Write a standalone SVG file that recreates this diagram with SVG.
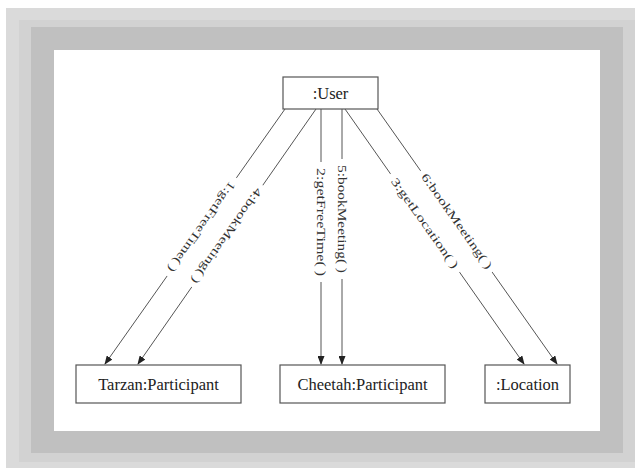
<svg xmlns="http://www.w3.org/2000/svg" width="635" height="469" viewBox="0 0 635 469">
<style>
.box{fill:#fff;stroke:#555;stroke-width:1.2}
.nt{font-family:"Liberation Serif","Times New Roman",serif;font-size:16.5px;fill:#222;text-anchor:middle;dominant-baseline:central}
.conn{stroke:#555;stroke-width:1;fill:none;marker-end:url(#ah)}
.lt{font-family:"Liberation Serif","Times New Roman",serif;font-size:11.5px;fill:#333;text-anchor:middle;dominant-baseline:central}
.bg{fill:#fff}
</style>
<defs>
<marker id="ah" markerWidth="9" markerHeight="7" refX="8" refY="3.5" orient="auto" markerUnits="userSpaceOnUse">
<path d="M0,0 L9,3.5 L0,7 z" fill="#222"/>
</marker>
</defs>
<rect x="0" y="0" width="635" height="469" fill="#fff"/>
<rect x="6" y="8" width="629" height="460" fill="#dadada"/>
<rect x="19" y="20" width="616" height="442" fill="#d2d2d2"/>
<rect x="31" y="27" width="592" height="426" fill="#c0c0c0"/>
<rect x="54" y="50" width="546" height="381" fill="#fff"/>
<g id="connectors">
<line class="conn" x1="285" y1="109" x2="105" y2="364"/>
<line class="conn" x1="316" y1="109" x2="138" y2="364"/>
<line class="conn" x1="321" y1="109" x2="321" y2="364"/>
<line class="conn" x1="342" y1="109" x2="342" y2="364"/>
<line class="conn" x1="345" y1="109" x2="524" y2="364"/>
<line class="conn" x1="377" y1="109" x2="557" y2="364"/>
<g transform="translate(202,227) rotate(125.3)"><rect class="bg" x="-60" y="-6" width="120" height="12"/><text class="lt" x="0" y="0" textLength="108" lengthAdjust="spacingAndGlyphs">1:getFreeTime(&#160;)</text></g>
<g transform="translate(227,236) rotate(125.1)"><rect class="bg" x="-62" y="-6" width="124" height="12"/><text class="lt" x="0" y="0" textLength="114" lengthAdjust="spacingAndGlyphs">4:bookMeeting(&#160;)</text></g>
<g transform="translate(321,222) rotate(90)"><rect class="bg" x="-60" y="-6" width="120" height="12"/><text class="lt" x="0" y="0" textLength="108" lengthAdjust="spacingAndGlyphs">2:getFreeTime(&#160;)</text></g>
<g transform="translate(342,219) rotate(90)"><rect class="bg" x="-60" y="-6" width="120" height="12"/><text class="lt" x="0" y="0" textLength="108" lengthAdjust="spacingAndGlyphs">5:bookMeeting(&#160;)</text></g>
<g transform="translate(425,223) rotate(54.7)"><rect class="bg" x="-60" y="-6" width="120" height="12"/><text class="lt" x="0" y="0" textLength="108" lengthAdjust="spacingAndGlyphs">3:getLocation(&#160;)</text></g>
<g transform="translate(457,221) rotate(54.7)"><rect class="bg" x="-62" y="-6" width="124" height="12"/><text class="lt" x="0" y="0" textLength="114" lengthAdjust="spacingAndGlyphs">6:bookMeeting(&#160;)</text></g>
</g>
<g id="user"><rect class="box" x="283" y="77" width="95" height="32"/><text class="nt" x="330.5" y="93">:User</text></g>
<g id="tarzan"><rect class="box" x="76" y="365" width="165" height="38"/><text class="nt" x="158.5" y="384">Tarzan:Participant</text></g>
<g id="cheetah"><rect class="box" x="280" y="365" width="165" height="38"/><text class="nt" x="362.5" y="384">Cheetah:Participant</text></g>
<g id="location"><rect class="box" x="485" y="365" width="85" height="38"/><text class="nt" x="527.5" y="384">:Location</text></g>
</svg>
